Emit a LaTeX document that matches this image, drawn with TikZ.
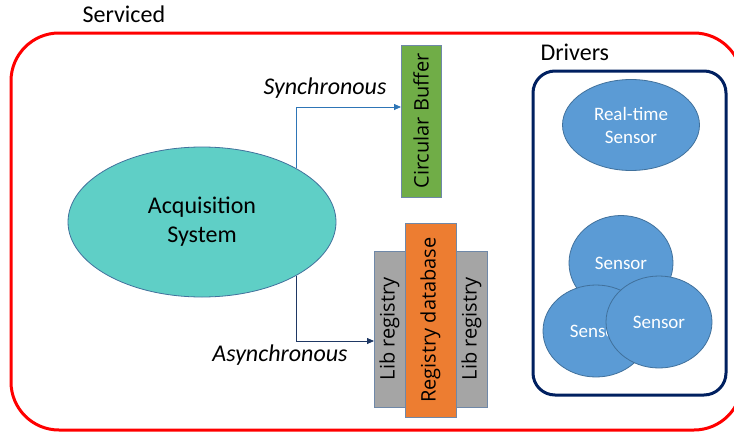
\documentclass[tikz,border=0pt]{standalone}
\usepackage{fontspec}
\setmainfont{Carlito}
\newfontfamily\boxfont{Open Sans}
\usetikzlibrary{shapes.geometric,arrows.meta}
\definecolor{redline}{HTML}{FF0000}
\definecolor{navy}{HTML}{002060}
\definecolor{teal1}{HTML}{5FCFC6}
\definecolor{edge1}{HTML}{41719C}
\definecolor{green1}{HTML}{70AD47}
\definecolor{orange1}{HTML}{ED7D31}
\definecolor{gray1}{HTML}{A5A5A5}
\definecolor{sensorfill}{HTML}{5B9BD5}
\definecolor{syncblue}{HTML}{2E75B6}
\definecolor{asyncblue}{HTML}{1F3864}
\definecolor{boxedge}{HTML}{6F88A8}
\tikzset{
  sensor/.style={ellipse, draw=edge1, fill=sensorfill, line width=0.8pt, inner sep=0pt,
    text=white, font=\fontsize{19}{23}\selectfont, align=center},
  vbox/.style={draw=boxedge, line width=1pt, inner sep=0pt, rotate=90, anchor=center,
    font=\boxfont\fontsize{20}{22}\selectfont},
  lbl/.style={font=\fontsize{24}{28}\selectfont},
  conn/.style={line width=0.8pt}
}
\begin{document}
\begin{tikzpicture}[x=1pt,y=-1pt]
\useasboundingbox (0,0) rectangle (734,434);
\fill[white] (0,0) rectangle (734,434);
% outer red rounded rect
\draw[redline, line width=3pt, rounded corners=48pt] (11,33) rectangle (742,430);
\node[lbl, anchor=base west] (serviced) at (79,22) {Serviced};
% drivers box
\draw[navy, line width=3pt, rounded corners=22pt] (533,71) rectangle (726,395);
\node[lbl, anchor=base west] (drivers) at (537,60) {Drivers};
% acquisition
\node[ellipse, draw=edge1, fill=teal1, line width=0.8pt, minimum width=268pt, minimum height=150pt,
  inner sep=0pt, align=center, font=\fontsize{24}{29}\selectfont] (acq) at (202,222) {Acquisition\\System};
% circular buffer
\node[vbox, fill=green1, minimum width=152pt, minimum height=40pt] (cb) at (421,121) {Circular Buffer};
% lib registries and database
\node[vbox, fill=gray1, minimum width=156pt, minimum height=31pt] (lr1) at (389.5,329) {Lib registry};
\node[vbox, fill=gray1, minimum width=156pt, minimum height=31pt] (lr2) at (471.5,329) {Lib registry};
\node[vbox, fill=orange1, minimum width=194pt, minimum height=51pt] (db) at (430.5,320) {Registry database};
% sensors
\node[sensor, minimum width=137pt, minimum height=91pt] (rt) at (631,125) {Real-time\\Sensor};
\node[sensor, minimum width=104pt, minimum height=95pt] (s1) at (621,263) {Sensor};
\node[sensor, minimum width=106pt, minimum height=92pt] (s2) at (596,331) {Sensor};
\node[sensor, minimum width=106pt, minimum height=92pt] (s3) at (659,322) {Sensor};
% connectors
\coordinate (syncstart) at (296,168);
\coordinate (asyncstart) at (296,276);
\draw[conn, syncblue, -{Triangle[length=7pt,width=6pt]}] (syncstart) |- ([xshift=-20pt]cb.center |- 0,107);
\draw[conn, asyncblue, -{Triangle[length=7pt,width=6pt]}] (asyncstart) |- ([xshift=-15.5pt]lr1.center |- 0,341);
\node[lbl, font=\itshape\fontsize{24}{28}\selectfont] (synclbl) at (325,88) {Synchronous};
\node[lbl, font=\itshape\fontsize{24}{28}\selectfont] (asynclbl) at (280,355) {Asynchronous};
\end{tikzpicture}
\end{document}
